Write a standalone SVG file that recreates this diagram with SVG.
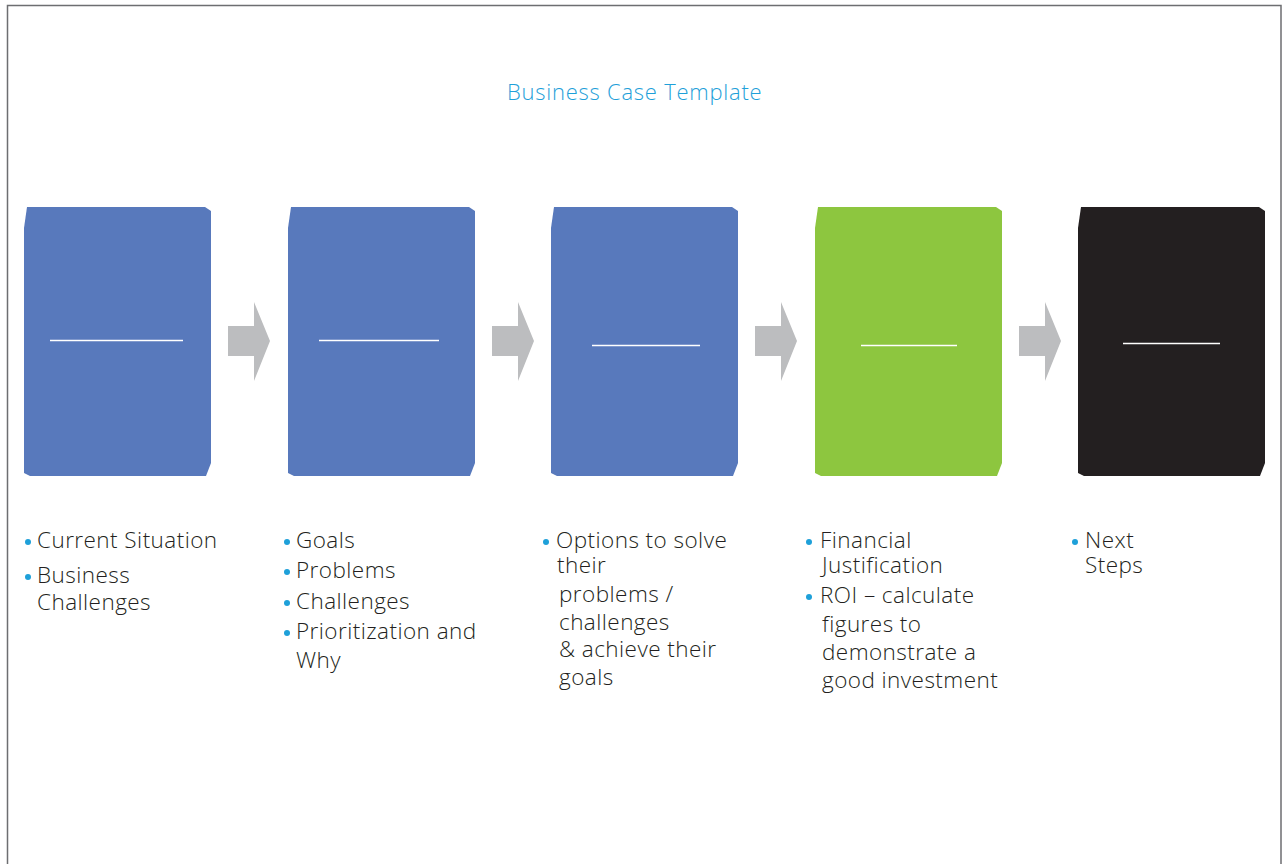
<svg xmlns="http://www.w3.org/2000/svg" width="1283" height="864" viewBox="0 0 1283 864">
  <defs>
    <style>
      .frame { fill: none; stroke: #6d6e71; stroke-width: 1.5; }
      .title { font-family: "Open Sans", Lato, sans-serif; font-weight: 300; font-size: 22px; letter-spacing: 0.75px; fill: #1ea0d9; }
      .item { font-family: "Open Sans", Lato, sans-serif; font-weight: 300; font-size: 22.5px; letter-spacing: 0.45px; fill: #231f20; font-variant-ligatures: none; }
      .dot { fill: #1ea0d9; }
      .blue { fill: #5879bc; }
      .green { fill: #8dc63f; }
      .dark { fill: #231f20; }
      .rule { stroke: #ffffff; stroke-width: 1.5; }
      .arrow { fill: #bcbdbf; }
    </style>
    <!-- step card with slightly clipped corners -->
    <path id="card" d="M4,0 H182 L188,4 V256 L183,269 H7 L1,266 V21 Z"/>
    <!-- block arrow between cards -->
    <path id="step" d="M0,19 H26 V-5 L42,34 L26,74 V49 H0 Z"/>
  </defs>

  <rect width="1283" height="864" fill="#ffffff"/>
  <path class="frame" d="M7.5,870 V5.5 H1281 V870"/>

  <text class="title" x="507" y="100">Business Case Template</text>

  <g id="connectors">
    <use href="#step" class="arrow" x="228" y="307"/>
    <use href="#step" class="arrow" x="492" y="307"/>
    <use href="#step" class="arrow" x="755" y="307"/>
    <use href="#step" class="arrow" x="1019" y="307"/>
  </g>

  <g id="node-situation">
    <use href="#card" class="blue" x="23" y="207"/>
    <line class="rule" x1="50" y1="340.5" x2="183" y2="340.5"/>
    <circle class="dot" cx="28" cy="542" r="3"/>
    <text class="item" x="37" y="548">Current Situation</text>
    <circle class="dot" cx="28" cy="577" r="3"/>
    <text class="item" x="37" y="583">Business</text>
    <text class="item" x="37" y="610">Challenges</text>
  </g>

  <g id="node-goals">
    <use href="#card" class="blue" x="287" y="207"/>
    <line class="rule" x1="319" y1="340.5" x2="439" y2="340.5"/>
    <circle class="dot" cx="287" cy="542" r="3"/>
    <text class="item" x="296" y="548">Goals</text>
    <circle class="dot" cx="287" cy="572" r="3"/>
    <text class="item" x="296" y="578">Problems</text>
    <circle class="dot" cx="287" cy="603" r="3"/>
    <text class="item" x="296" y="609">Challenges</text>
    <circle class="dot" cx="287" cy="633" r="3"/>
    <text class="item" x="296" y="639">Prioritization and</text>
    <text class="item" x="296" y="668">Why</text>
  </g>

  <g id="node-options">
    <use href="#card" class="blue" x="550" y="207"/>
    <line class="rule" x1="592" y1="345.5" x2="700" y2="345.5"/>
    <circle class="dot" cx="546" cy="542" r="3"/>
    <text class="item" x="556" y="548">Options to solve</text>
    <text class="item" x="557" y="573">their</text>
    <text class="item" x="559" y="602">problems /</text>
    <text class="item" x="559" y="630">challenges</text>
    <text class="item" x="559" y="657">&amp; achieve their</text>
    <text class="item" x="559" y="685">goals</text>
  </g>

  <g id="node-financial">
    <use href="#card" class="green" x="814" y="207"/>
    <line class="rule" x1="861" y1="345.5" x2="957" y2="345.5"/>
    <circle class="dot" cx="809" cy="542" r="3"/>
    <text class="item" x="820" y="548">Financial</text>
    <text class="item" x="822" y="573">Justification</text>
    <circle class="dot" cx="809" cy="597" r="3"/>
    <text class="item" x="820" y="603">ROI – calculate</text>
    <text class="item" x="822" y="632">figures  to</text>
    <text class="item" x="822" y="660">demonstrate a</text>
    <text class="item" x="822" y="688">good investment</text>
  </g>

  <g id="node-next">
    <use href="#card" class="dark" x="1077" y="207"/>
    <line class="rule" x1="1123" y1="343.5" x2="1220" y2="343.5"/>
    <circle class="dot" cx="1075" cy="542" r="3"/>
    <text class="item" x="1085" y="548">Next</text>
    <text class="item" x="1085" y="573">Steps</text>
  </g>
</svg>
